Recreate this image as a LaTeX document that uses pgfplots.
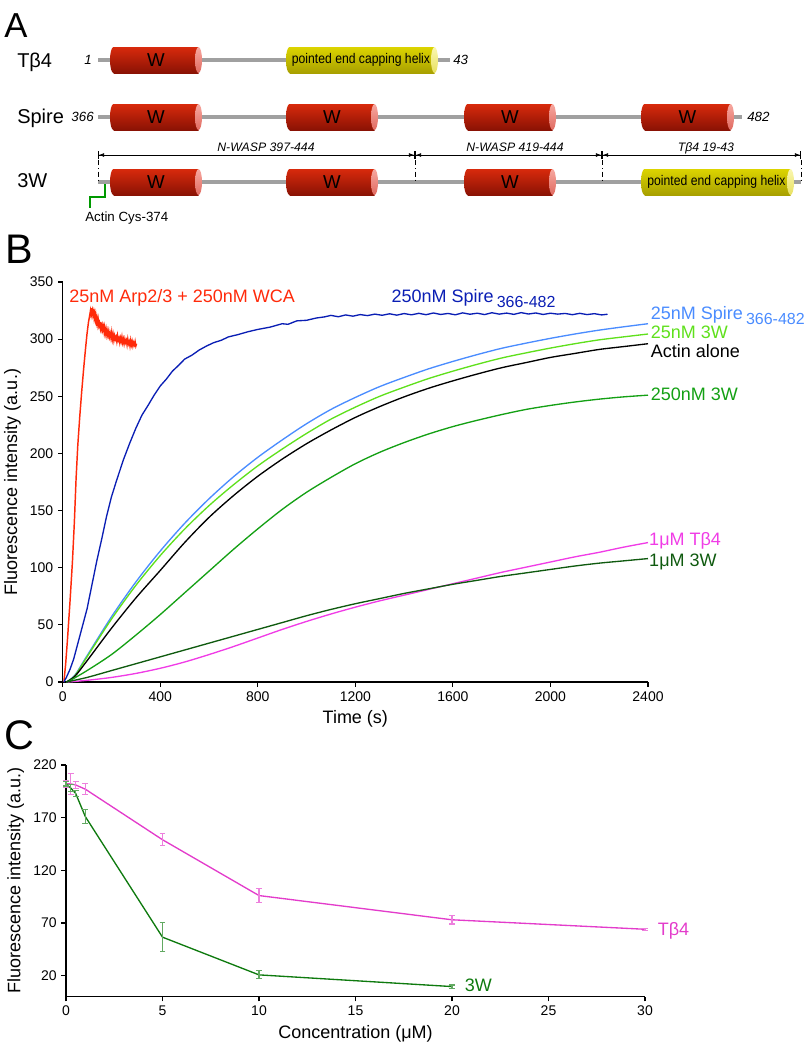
\documentclass[border=0pt]{standalone}
\usepackage{graphicx}
\usepackage{pgfplots}
\pgfplotsset{compat=1.18}
\usepackage{fontspec}
\setmainfont{Liberation Sans}
\usetikzlibrary{arrows.meta}
\definecolor{cRed}{HTML}{FF2A0A}
\definecolor{cDBlue}{HTML}{0A1EB4}
\definecolor{cLBlue}{HTML}{4A8CFF}
\definecolor{cLGreen}{HTML}{5FE01C}
\definecolor{cGreen}{HTML}{14A014}
\definecolor{cDGreen}{HTML}{0F5A0F}
\definecolor{cMag}{HTML}{F03CE6}
\definecolor{cCMag}{HTML}{E33CCB}
\definecolor{cCGreen}{HTML}{0E7A0E}
\definecolor{rA}{HTML}{D82A0C}
\definecolor{rB}{HTML}{F2360E}
\definecolor{rC}{HTML}{8A1204}
\definecolor{capA}{HTML}{F7A8A0}
\definecolor{capB}{HTML}{E06A60}
\definecolor{yA}{HTML}{DCD400}
\definecolor{yB}{HTML}{F4EE18}
\definecolor{yC}{HTML}{A8A000}
\definecolor{ycA}{HTML}{FAF7B0}
\definecolor{ycB}{HTML}{E8E060}
\definecolor{lineG}{HTML}{A0A0A0}
\newcommand{\fs}[1]{\fontsize{#1}{#1}\selectfont}
\newcommand{\cyl}[6]{% x1,x2,y,top,mid,bottom
 \shade[top color=#4, middle color=#5, bottom color=#6] (#1+3.5,#3) ellipse [x radius=3.5, y radius=13];
 \shade[top color=#4, middle color=#5, bottom color=#6] (#1+3.5,#3-13) rectangle (#2-3.5,#3+13);}
\newcommand{\redcyl}[3]{\cyl{#1}{#2}{#3}{rA}{rB}{rC}
 \shade[top color=capA, bottom color=capB] (#2-3.5,#3) ellipse [x radius=3.5, y radius=13];
 \node[font=\fs{14}, inner sep=0] at ({(#1+#2)/2},#3) {W};}
\newcommand{\yelcyl}[3]{\cyl{#1}{#2}{#3}{yA}{yB}{yC}
 \shade[top color=ycA, bottom color=ycB] (#2-3.5,#3) ellipse [x radius=3.5, y radius=13];
 \node[font=\fs{10.5}, inner sep=0] at ({(#1+#2)/2-1},#3) {\scalebox{0.87}[1]{pointed end capping helix}};}
\begin{document}
\begin{tikzpicture}
\useasboundingbox (0,0) rectangle (605.25pt,-787.5pt);
% ---------------- Panel A (schematic) ----------------
\begin{scope}[x=0.75pt,y=-0.75pt]
\node[anchor=base west, inner sep=0, font=\fs{26}] at (4,37) {A};
\node[anchor=base west, inner sep=0, font=\fs{31}] at (5,263) {B};
\node[anchor=base west, inner sep=0, font=\fs{31}] at (4,749) {C};
% row labels
\node[anchor=base west, inner sep=0, font=\fs{15}] at (17,67) {Tβ4};
\node[anchor=base west, inner sep=0, font=\fs{15}] at (17,123) {Spire};
\node[anchor=base west, inner sep=0, font=\fs{15}] at (17,187) {3W};
% T beta 4
\draw[lineG, line width=2.6pt] (98,60) -- (450,60);
\node[anchor=east, inner sep=0, font=\fs{10}\itshape] at (92,60) {1};
\node[anchor=west, inner sep=0, font=\fs{10}\itshape] at (453,60) {43};
\redcyl{110}{202}{60}
\yelcyl{286}{438}{60}
% Spire
\draw[lineG, line width=2.6pt] (98,117) -- (742,117);
\node[anchor=east, inner sep=0, font=\fs{10}\itshape] at (94,117) {366};
\node[anchor=west, inner sep=0, font=\fs{10}\itshape] at (747,117) {482};
\redcyl{110}{202}{117}
\redcyl{286}{378}{117}
\redcyl{464}{556}{117}
\redcyl{641}{734}{117}
% 3W
\draw[lineG, line width=2.6pt] (98,182) -- (801,182);
\foreach \xx in {98,415,602,801} {\draw[black, line width=0.5pt, dash pattern=on 4pt off 2pt on 0.8pt off 2pt] (\xx,160) -- (\xx,182);}
\redcyl{110}{202}{182}
\redcyl{286}{378}{182}
\redcyl{464}{556}{182}
\yelcyl{641}{794}{182}
% brackets
\draw[line width=0.6pt, {Bar[width=6pt]Latex[length=4pt,width=3pt]}-{Latex[length=4pt,width=3pt]Bar[width=6pt]}] (98,155) -- (415,155);
\draw[line width=0.6pt, {Bar[width=6pt]Latex[length=4pt,width=3pt]}-{Latex[length=4pt,width=3pt]Bar[width=6pt]}] (415,155) -- (602,155);
\draw[line width=0.6pt, {Bar[width=6pt]Latex[length=4pt,width=3pt]}-{Latex[length=4pt,width=3pt]Bar[width=6pt]}] (602,155) -- (801,155);
\node[anchor=base, inner sep=0, font=\fs{9.2}\itshape] at (266,151) {N-WASP 397-444};
\node[anchor=base, inner sep=0, font=\fs{9.2}\itshape] at (515,151) {N-WASP 419-444};
\node[anchor=base, inner sep=0, font=\fs{9.2}\itshape] at (706,151) {Tβ4 19-43};
% cysteine
\draw[green!60!black, line width=1.1pt] (105,184) -- (105,197) -- (90,197) -- (90,208);
\node[anchor=base west, inner sep=0, font=\fs{10}] at (85,221) {Actin Cys-374};
\end{scope}
% ---------------- Panel B ----------------
\begin{axis}[at={(47pt,-511.5pt)}, anchor=south west, scale only axis,
  width=439pt, height=300pt, xmin=0, xmax=2400, ymin=0, ymax=350,
  axis lines=left, axis line style={-, line width=0.9pt},
  tick align=outside, major tick length=3.5pt,
  xtick={0,400,...,2400}, ytick={0,50,...,350},
  tick style={line width=0.9pt, black},
  ticklabel style={font=\fs{10.5}},
  /pgf/number format/1000 sep={}, /pgf/number format/assume math mode=true,
  xlabel={Time (s)}, ylabel={Fluorescence intensity (a.u.)},
  label style={font=\fs{13.5}}, clip=false]
\addplot[cRed, line width=1.1pt] coordinates {(5,0) (12,15) (20,38) (30,70) (40,105) (48,140) (55,178) (62,207) (70,232) (78,254) (86,274) (93,290) (100,305) (106,315) (111,321) (114,325) (116,322) (118,327) (120,323) (122,325) (124,321) (127,324) (129,319) (131,322) (134,317) (136,321) (139,315) (141,318) (144,313) (146,317) (149,312) (151,314) (154,310) (156,315) (159,309) (162,312) (164,308) (167,311) (170,306) (172,310) (175,305) (178,309) (181,304) (183,307) (186,303) (189,307) (192,302) (195,305) (198,301) (201,306) (204,300) (207,304) (210,299) (213,303) (216,300) (219,302) (222,298) (225,303) (228,299) (231,301) (234,297) (237,301) (240,298) (243,302) (246,297) (249,300) (252,296) (255,300) (258,297) (261,299) (264,295) (267,300) (270,296) (273,298) (276,294) (279,299) (282,295) (285,298) (288,294) (291,297) (294,295) (297,298) (300,294) (303,296)};
\addplot[cDBlue, line width=1pt] coordinates {(5,0) (15,4) (30,11) (45,20) (60,32) (80,48) (100,64) (120,85) (140,106) (160,125) (180,145) (200,162) (222,177) (250,195) (275,209) (300,222) (325,233.5) (350,242) (375,251) (400,259) (425,265) (450,272) (475,277) (500,282.5) (530,286) (560,290.5) (590,294) (620,297) (650,299) (680,302) (719,304) (760,306.5) (800,308.5) (850,310.5) (900,313.5) (924,313) (960,316) (1000,316.5) (1040,318.5) (1074,319.5) (1100,320.8) (1130,319.6) (1160,321.2) (1190,320.1) (1220,321.5) (1250,320.6) (1280,321.9) (1310,320.9) (1340,322.2) (1370,321.0) (1400,322.4) (1430,321.3) (1460,322.6) (1490,321.4) (1520,322.9) (1550,321.6) (1580,322.5) (1610,321.3) (1640,323.0) (1670,321.8) (1700,322.7) (1730,321.5) (1760,323.1) (1790,321.9) (1820,322.8) (1850,321.7) (1880,323.2) (1910,322.0) (1940,322.9) (1970,321.6) (2000,322.7) (2030,321.9) (2060,322.5) (2090,321.4) (2120,322.6) (2150,321.5) (2180,322.3) (2210,321.2) (2234,321.8)};
\addplot[cLBlue, line width=1pt, smooth] coordinates {(15,0) (50,6) (100,23) (200,57) (300,87.5) (400,114.6) (500,138.8) (600,160.3) (700,179.5) (800,196.6) (900,211.8) (1000,226) (1100,238.5) (1200,249) (1300,258.5) (1400,266.5) (1500,274) (1600,280.5) (1700,286.5) (1800,292) (1900,296.5) (2000,300.7) (2100,304.5) (2200,307.9) (2300,310.8) (2400,313.5)};
\addplot[cLGreen, line width=1pt, smooth] coordinates {(15,0) (50,5.5) (100,22) (200,55) (300,84.5) (400,110.6) (500,133.8) (600,154.3) (700,172.5) (800,189.1) (900,203.8) (1000,217.5) (1100,230) (1200,240.5) (1300,250) (1400,258) (1500,265.5) (1600,272) (1700,278) (1800,283.5) (1900,288) (2000,292.2) (2100,296) (2200,299.4) (2300,302) (2400,304.5)};
\addplot[black, line width=1pt, smooth] coordinates {(15,0) (50,5) (100,18.6) (200,47) (300,73.5) (400,97.6) (500,122) (600,144) (700,163) (800,180) (900,195) (1000,208.5) (1100,220.5) (1200,231.5) (1300,241) (1400,249.5) (1500,257) (1600,263.5) (1700,269.5) (1800,275) (1900,279.5) (2000,284) (2100,287.5) (2200,291) (2300,293.5) (2400,296)};
\addplot[cGreen, line width=1pt, smooth] coordinates {(20,0) (100,10) (200,24) (300,41) (400,59) (500,78) (600,97) (700,116) (800,134) (900,151) (1000,166) (1100,179) (1200,191) (1300,201) (1400,209.5) (1500,217) (1600,223.5) (1700,229) (1800,234) (1900,238.5) (2000,242) (2100,245) (2200,247.5) (2300,249.5) (2400,251)};
\addplot[cMag, line width=1pt, smooth] coordinates {(20,0) (100,1.5) (200,4) (300,7.5) (400,12) (500,17.5) (600,24) (700,31) (800,38.5) (900,46) (1000,53) (1100,59.5) (1200,65.5) (1300,71) (1400,76) (1500,81) (1600,86) (1700,91) (1800,96) (1900,100.5) (2000,105) (2100,109.5) (2200,113.5) (2300,118) (2400,122)};
\addplot[cDGreen, line width=1pt, smooth] coordinates {(15,0) (100,4) (200,10) (300,16) (400,22) (500,28) (600,34) (700,40) (800,46) (900,52) (1000,58) (1100,63.5) (1200,68.5) (1300,73) (1400,77.5) (1500,81.5) (1600,85.5) (1700,89) (1800,92.5) (1900,95.5) (2000,98.5) (2100,101.5) (2200,104) (2300,106) (2400,108)};
\node[anchor=base west, inner sep=0, text=cRed, font=\fs{13.5}] at (axis cs:26,332) {25nM Arp2/3 + 250nM WCA};
\node[anchor=base west, inner sep=0, text=cDBlue, font=\fs{13.5}] at (axis cs:1348,332) {250nM Spire\,\raisebox{-3.8pt}{\fs{12}366-482}};
\node[anchor=base west, inner sep=0, text=cLBlue, font=\fs{13.5}] at (axis cs:2411,317.2) {25nM Spire\,\raisebox{-3.8pt}{\fs{12}366-482}};
\node[anchor=base west, inner sep=0, text=cLGreen, font=\fs{13.5}] at (axis cs:2411,300.6) {25nM 3W};
\node[anchor=base west, inner sep=0, text=black, font=\fs{13.5}] at (axis cs:2411,284) {Actin alone};
\node[anchor=base west, inner sep=0, text=cGreen, font=\fs{13.5}] at (axis cs:2411,246.4) {250nM 3W};
\node[anchor=base west, inner sep=0, text=cMag, font=\fs{13.5}] at (axis cs:2404,119.7) {1μM Tβ4};
\node[anchor=base west, inner sep=0, text=cDGreen, font=\fs{13.5}] at (axis cs:2404,101.4) {1μM 3W};
\end{axis}
% ---------------- Panel C ----------------
\begin{axis}[at={(49.5pt,-747.5pt)}, anchor=south west, scale only axis,
  width=434.25pt, height=173.8pt, xmin=0, xmax=30, ymin=0, ymax=220,
  axis lines=left, axis line style={-, line width=0.9pt},
  tick align=outside, major tick length=3.5pt,
  xtick={0,5,...,30}, ytick={20,70,120,170,220},
  tick style={line width=0.9pt, black},
  ticklabel style={font=\fs{10.5}},
  /pgf/number format/assume math mode=true,
  xlabel={Concentration (μM)}, ylabel={Fluorescence intensity (a.u.)},
  label style={font=\fs{13.5}}, clip=false]
\addplot[cCMag, line width=1pt, error bars/.cd, y dir=both, y explicit,
  error bar style={cCMag!65, line width=0.8pt},
  error mark options={rotate=90, mark size=2.2pt, cCMag!65, line width=0.8pt}]
  coordinates {(0,202) +- (0,3) (0.25,202) +- (0,10) (0.5,201) +- (0,3) (1,197) +- (0,5) (5,149) +- (0,5.5) (10,96) +- (0,7) (20,73) +- (0,4) (30,64) +- (0,1)};
\addplot[cCGreen, line width=1pt, error bars/.cd, y dir=both, y explicit,
  error bar style={cCGreen!65, line width=0.8pt},
  error mark options={rotate=90, mark size=2.2pt, cCGreen!65, line width=0.8pt}]
  coordinates {(0,202) +- (0,2) (0.25,198) +- (0,3) (0.5,193) +- (0,3) (1,171) +- (0,7) (5,56.5) +- (0,14) (10,20.7) +- (0,3.8) (20,9.6) +- (0,1.5)};
\node[anchor=base west, inner sep=0, text=cCMag, font=\fs{13.5}] at (axis cs:30.65,58.5) {Tβ4};
\node[anchor=base west, inner sep=0, text=cCGreen, font=\fs{13.5}] at (axis cs:20.65,4.5) {3W};
\end{axis}
\end{tikzpicture}
\end{document}
